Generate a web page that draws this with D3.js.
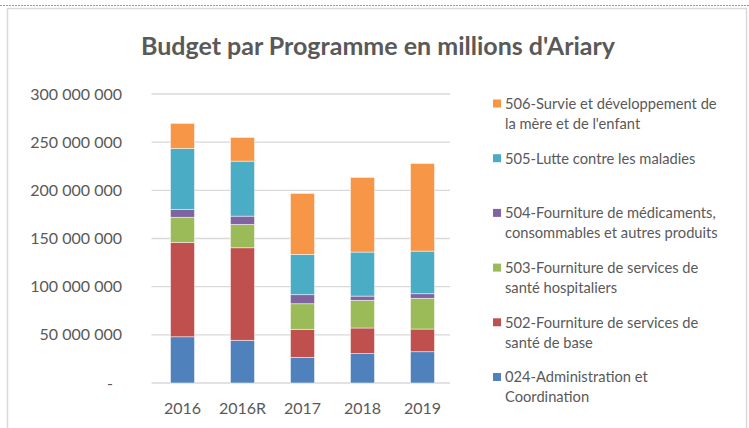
<!DOCTYPE html>
<html><head><meta charset="utf-8">
<script src="https://cdn.jsdelivr.net/npm/d3@7"></script>
<style>
  body { margin: 0; background: #fff; }
  text { font-family: Lato, "Open Sans", sans-serif; fill: #595959; }
</style>
</head><body>
<div id="chart"></div>
<script>
// données (Ariary)
const years = ["2016", "2016R", "2017", "2018", "2019"];
const prog024 = [48000000, 44300000, 26600000, 30500000, 32500000];
const prog502 = [98000000, 96100000, 29100000, 26600000, 23500000];
const prog503 = [26000000, 24200000, 26600000, 28700000, 31900000];
const prog504 = [8000000, 8600000, 9400000, 4400000, 4800000];
const prog505 = [63500000, 57100000, 41800000, 45700000, 44200000];
const prog506 = [26000000, 24600000, 63300000, 77500000, 91000000];
const yTicks = [0, 50000000, 100000000, 150000000, 200000000, 250000000, 300000000];

const programmes = [
    {key: "024", lines: ["024-Administration et", "Coordination"], values: prog024, color: "#4F81BD"},
    {key: "502", lines: ["502-Fourniture de services de", "santé de base"], values: prog502, color: "#C0504D"},
    {key: "503", lines: ["503-Fourniture de services de", "santé hospitaliers"], values: prog503, color: "#9BBB59"},
    {key: "504", lines: ["504-Fourniture de médicaments,", "consommables et autres produits"], values: prog504, color: "#8064A2"},
    {key: "505", lines: ["505-Lutte contre les maladies"], values: prog505, color: "#4BACC6"},
    {key: "506", lines: ["506-Survie et développement de", "la mère et de l'enfant"], values: prog506, color: "#F79646"}
];

// table large pour d3.stack
const table = years.map((y, i) => {
    const row = {year: y};
    programmes.forEach(p => row[p.key] = p.values[i]);
    return row;
});

const W = 749, H = 428;
const plot = {left: 151.5, right: 450, top: 94, bottom: 383};

const svg = d3.select("#chart").append("svg")
    .attr("width", W)
    .attr("height", H);

// cadre
svg.append("line")
    .attr("x1", 0).attr("x2", W).attr("y1", 5.5).attr("y2", 5.5)
    .attr("stroke", "#9a9a9a").attr("stroke-width", 1.2)
    .attr("stroke-dasharray", "2,1");
svg.append("rect")
    .attr("x", 7.5).attr("y", 8.5)
    .attr("width", 739).attr("height", 440)
    .attr("fill", "none")
    .attr("stroke", "#d9d9d9")
    .attr("stroke-width", 1.5);

// titre
svg.append("text")
    .attr("x", 378)
    .attr("y", 55)
    .attr("text-anchor", "middle")
    .style("font-size", "25px")
    .style("font-weight", "bold")
    .text("Budget par Programme en millions d'Ariary");

// échelles
const x = d3.scaleBand()
    .domain(years)
    .range([152.5, 452.5])
    .paddingInner(0.6)
    .paddingOuter(0.3);

const y = d3.scaleLinear()
    .domain([0, 300000000])
    .range([plot.bottom, plot.top]);

const fr = d3.formatLocale({decimal: ",", thousands: " ", grouping: [3], currency: ["", ""]});
const fmt = fr.format(",");

// grille
svg.append("g")
    .selectAll("line")
    .data(yTicks)
    .join("line")
    .attr("x1", plot.left).attr("x2", plot.right)
    .attr("y1", d => y(d)).attr("y2", d => y(d))
    .attr("stroke", "#d9d9d9")
    .attr("stroke-width", 1.3);

// axe Y
const yAxis = svg.append("g")
    .attr("transform", "translate(122,0)")
    .call(d3.axisLeft(y).tickValues(yTicks).tickSize(0).tickPadding(0)
        .tickFormat(d => d === 0 ? "-" : fmt(d)));
yAxis.select(".domain").remove();
yAxis.selectAll("text")
    .attr("x", d => d === 0 ? -9 : 0)
    .style("font-size", "16px")
    .style("fill", "#595959")
    .style("font-family", "Lato");

// axe X
const xAxis = svg.append("g")
    .attr("transform", `translate(0,${plot.bottom})`)
    .call(d3.axisBottom(x).tickSize(0).tickPadding(0));
xAxis.select(".domain").remove();
xAxis.selectAll("text")
    .attr("dy", null)
    .attr("y", 31)
    .style("font-size", "16px")
    .style("fill", "#595959")
    .style("font-family", "Lato");

// barres empilées
const series = d3.stack().keys(programmes.map(p => p.key))(table);
const colorOf = d3.scaleOrdinal()
    .domain(programmes.map(p => p.key))
    .range(programmes.map(p => p.color));

svg.append("g")
    .selectAll("g")
    .data(series)
    .join("g")
    .attr("fill", d => colorOf(d.key))
    .selectAll("rect")
    .data(d => d)
    .join("rect")
    .attr("x", d => x(d.data.year))
    .attr("width", x.bandwidth())
    .attr("y", d => y(d[1]))
    .attr("height", d => y(d[0]) - y(d[1]))
    .attr("stroke", "#ffffff")
    .attr("stroke-opacity", 0.6)
    .attr("stroke-width", 0.8);

// légende (ordre inversé)
const legendItems = programmes.slice().reverse();
const legend = svg.append("g")
    .selectAll("g")
    .data(legendItems)
    .join("g")
    .attr("transform", (d, i) => `translate(493,${103.5 + i * 54.7})`);

legend.append("rect")
    .attr("x", 0).attr("y", -4)
    .attr("width", 8).attr("height", 8)
    .attr("fill", d => d.color);

legend.append("text")
    .attr("x", 12)
    .attr("y", 5.3)
    .style("font-size", "14.7px")
    .selectAll("tspan")
    .data(d => d.lines)
    .join("tspan")
    .attr("x", 12)
    .attr("dy", (d, i) => i === 0 ? 0 : 20)
    .text(d => d);
</script>
</body></html>
